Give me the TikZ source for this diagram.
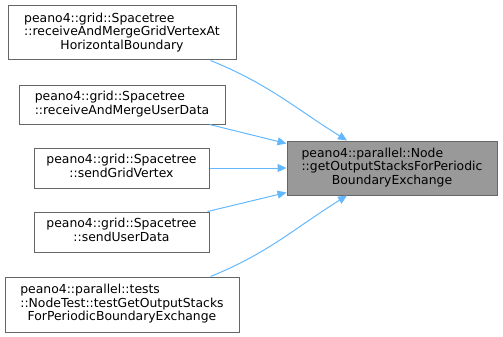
\documentclass[tikz,border=0pt]{standalone}
\usepackage{fontspec}
\setmainfont{DejaVu Sans}
\usetikzlibrary{arrows.meta}
\definecolor{edgeblue}{HTML}{63B8FF}
\definecolor{boxline}{HTML}{666666}
\definecolor{hilite}{HTML}{999999}
\newcommand{\boxlines}[2]{\begin{tabular}{@{}l@{}}#1\\\multicolumn{1}{@{}c@{}}{#2}\end{tabular}}
\tikzset{
  fn/.style={draw=boxline, line width=1pt, fill=white, inner sep=0pt,
    font=\fontsize{12.4}{14}\selectfont, text=black},
  focus/.style={fn, fill=hilite},
  edge/.style={draw=edgeblue, line width=1pt,
    -{Triangle[length=9pt,width=8pt]}},
}
\begin{document}
\begin{tikzpicture}[x=1pt,y=-1pt]
  \useasboundingbox (0,0) rectangle (503,337);
  \renewcommand{\arraystretch}{0.98}

  % callers
  \node[fn, minimum width=228, minimum height=54] (b1) at (122,33)
    {\boxlines{peano4::grid::Spacetree\\::receiveAndMergeGridVertexAt}{HorizontalBoundary}};
  \node[fn, minimum width=206, minimum height=39] (b2) at (122,104.5)
    {\begin{tabular}{@{}l@{}}peano4::grid::Spacetree\\::receiveAndMergeUserData\end{tabular}};
  \node[fn, minimum width=175, minimum height=40] (b3) at (121.5,168)
    {\boxlines{peano4::grid::Spacetree}{::sendGridVertex}};
  \node[fn, minimum width=175, minimum height=40] (b4) at (121.5,232)
    {\boxlines{peano4::grid::Spacetree}{::sendUserData}};
  \node[fn, minimum width=234, minimum height=55] (b5) at (122,304.5)
    {\boxlines{peano4::parallel::tests\\::NodeTest::testGetOutputStacks}{ForPeriodicBoundaryExchange}};

  % callee
  \node[focus, minimum width=210, minimum height=54] (t) at (392,168)
    {\boxlines{peano4::parallel::Node\\::getOutputStacksForPeriodic}{BoundaryExchange}};

  % call edges
  \draw[edge] ([xshift=-26pt]b1.south east) to[out=-22,in=148] ([xshift=-45pt]t.north);
  \draw[edge] ([xshift=-16pt]b2.south east) -- ([yshift=-3pt]t.north west);
  \draw[edge] (b3.east) -- (t.west);
  \draw[edge] ([xshift=-2pt]b4.north east) -- ([yshift=3pt]t.south west);
  \draw[edge] ([xshift=-29pt]b5.north east) to[out=22,in=-148] ([xshift=-45pt]t.south);
\end{tikzpicture}
\end{document}
